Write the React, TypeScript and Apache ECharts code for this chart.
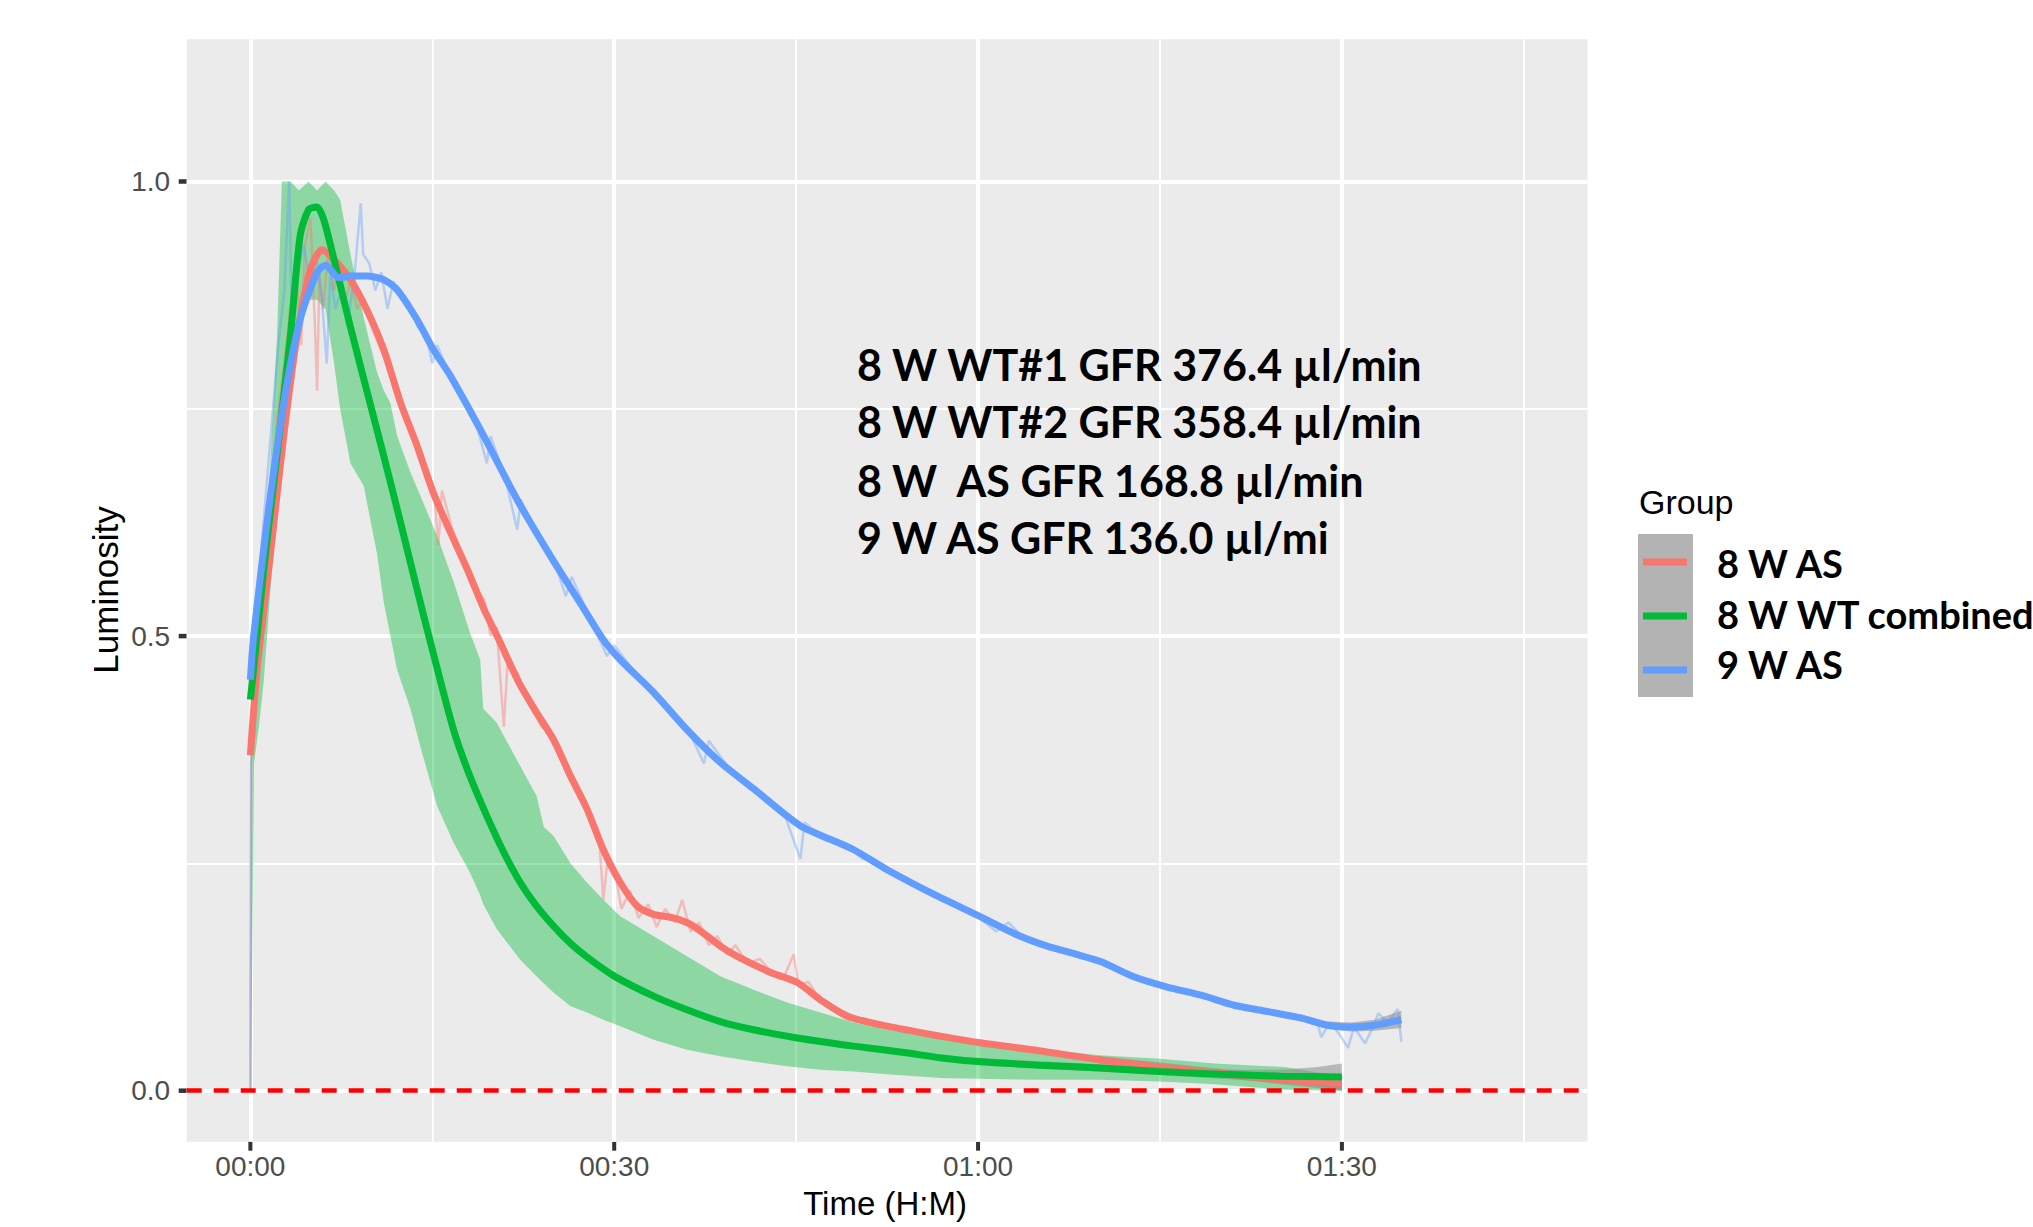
import React, { useEffect, useRef } from "react";
import * as echarts from "echarts";

// ---------------- axis ticks / grid values ----------------
const xMajorTicks = [0, 30, 60, 90]; // minutes
const xMinorGrid = [15, 45, 75, 105];
const yMajorTicks = [0, 0.5, 1.0];
const yMinorGrid = [0.25, 0.75];
const zeroLine = [0];
const X_MIN = -5.25;
const X_MAX = 110.25;
const Y_MIN = -0.0561;
const Y_MAX = 1.1564;

// ---------------- legend / annotation texts ----------------
const groupNames = ["8 W AS", "8 W WT combined", "9 W AS"];
const legendTitle = "Group";
const annotationLines = [
  "8 W WT#1 GFR 376.4 µl/min",
  "8 W WT#2 GFR 358.4 µl/min",
  "8 W  AS GFR 168.8 µl/min",
  "9 W AS GFR 136.0 µl/mi",
];

// ---------------- smoothed curves (time in minutes, luminosity) ----------------
const as8SmoothT = [0, 0.55, 1.65, 2.75, 3.85, 4.95, 5.9, 6.9, 8.25, 9.6, 11.0, 12.4, 13.75, 15.1, 16.5, 17.9, 19.25, 20.6, 22.1, 23.5, 25.0, 26.4, 27.75, 29.1, 30.5, 31.9, 33.25, 34.9, 36.55, 38.75, 40.1, 42.9, 45.1, 47.0, 49.2, 52.5, 56.9, 60, 65, 70, 75, 80, 85, 90];
const as8SmoothV = [0.369, 0.463, 0.59, 0.72, 0.83, 0.903, 0.925, 0.914, 0.892, 0.859, 0.815, 0.756, 0.709, 0.657, 0.614, 0.573, 0.53, 0.493, 0.45, 0.418, 0.386, 0.346, 0.31, 0.265, 0.229, 0.203, 0.194, 0.19, 0.181, 0.159, 0.148, 0.13, 0.119, 0.1, 0.082, 0.071, 0.06, 0.053, 0.044, 0.034, 0.026, 0.019, 0.012, 0.008];

const wtSmoothT = [0, 0.55, 1.1, 2.2, 3.3, 4.1, 4.8, 5.5, 6.05, 6.9, 8.25, 9.6, 11.0, 12.4, 13.75, 14.85, 16.75, 18.1, 19.5, 20.9, 22.25, 23.6, 25.0, 26.4, 27.75, 30, 33.25, 36, 38.75, 41.5, 45.1, 49.75, 53.9, 57, 60, 65, 70, 75, 80, 85, 90];
const wtSmoothV = [0.43, 0.5, 0.573, 0.7, 0.83, 0.94, 0.969, 0.972, 0.958, 0.914, 0.84, 0.77, 0.698, 0.624, 0.551, 0.493, 0.397, 0.346, 0.302, 0.262, 0.229, 0.203, 0.181, 0.162, 0.147, 0.126, 0.104, 0.089, 0.076, 0.067, 0.058, 0.049, 0.042, 0.036, 0.032, 0.028, 0.025, 0.021, 0.018, 0.016, 0.015];

const as9SmoothT = [0, 0.27, 1.4, 2.75, 4.1, 5.5, 6.2, 7.3, 8.25, 9.6, 11.0, 12.1, 13.75, 15.1, 16.5, 19.25, 22.0, 24.75, 27.5, 29.1, 30.5, 33.25, 36.0, 38.75, 41.5, 44.25, 45.5, 47.0, 49.75, 52.5, 56.2, 60.1, 63.3, 65.7, 68.1, 70.1, 72.9, 75.6, 78.4, 81.1, 83.9, 86.6, 88.8, 90.8, 92.7, 94.9];
const as9SmoothV = [0.452, 0.5, 0.628, 0.756, 0.848, 0.9, 0.908, 0.894, 0.896, 0.896, 0.892, 0.881, 0.848, 0.815, 0.786, 0.72, 0.65, 0.588, 0.53, 0.496, 0.474, 0.438, 0.397, 0.361, 0.332, 0.302, 0.29, 0.281, 0.265, 0.243, 0.217, 0.192, 0.171, 0.159, 0.15, 0.142, 0.125, 0.114, 0.105, 0.094, 0.087, 0.08, 0.072, 0.07, 0.072, 0.078];

// ---------------- confidence ribbons (tails, where visible) ----------------
const wtRibbonT = [60, 70, 80, 85, 88, 90];
const wtRibbonLo = [0.028, 0.021, 0.013, 0.009, 0.005, 0.001];
const wtRibbonHi = [0.036, 0.029, 0.023, 0.023, 0.026, 0.03];
const as8RibbonT = [70, 80, 85, 90];
const as8RibbonLo = [0.03, 0.015, 0.007, 0.0];
const as8RibbonHi = [0.038, 0.024, 0.017, 0.016];
const as9RibbonT = [86.6, 88.8, 90.8, 92.7, 94.9];
const as9RibbonLo = [0.077, 0.068, 0.065, 0.066, 0.069];
const as9RibbonHi = [0.084, 0.076, 0.075, 0.078, 0.088];

// ---------------- raw traces ----------------
// combined WT raw traces form a band (lower / upper envelope)
const wtBandT = [0, 0.05, 0.3, 0.7, 1.1, 1.65, 2.2, 2.6, 3.3, 4.0, 4.8, 5.5, 6.2, 6.9, 7.4, 8.25, 9.35, 10.45, 11.0, 11.55, 12.1, 13.2, 14.0, 15.4, 16.75, 18.1, 18.95, 19.2, 20.3, 22.25, 23.6, 24.2, 25.0, 26.4, 27.75, 29.1, 30.5, 33.25, 36.0, 38.75, 41.5, 44.25, 47.0, 49.75, 52.5, 56.9, 60, 65, 70, 75, 79.5, 85.3, 89.4, 90];
const wtBandLo = [0, 0, 0.36, 0.4, 0.45, 0.55, 0.64, 0.7, 0.78, 0.84, 0.87, 0.87, 0.86, 0.8, 0.75, 0.69, 0.665, 0.59, 0.537, 0.5, 0.463, 0.42, 0.379, 0.313, 0.273, 0.24, 0.215, 0.205, 0.178, 0.144, 0.126, 0.118, 0.108, 0.093, 0.086, 0.078, 0.071, 0.056, 0.045, 0.038, 0.032, 0.027, 0.023, 0.021, 0.018, 0.014, 0.013, 0.012, 0.012, 0.01, 0.007, 0.001, 0.0, 0.0];
const wtBandHi = [0, 0.38, 0.42, 0.48, 0.58, 0.69, 0.83, 1.0, 1.0, 0.99, 1.0, 0.99, 1.0, 0.99, 0.98, 0.92, 0.85, 0.79, 0.77, 0.756, 0.72, 0.68, 0.655, 0.61, 0.56, 0.504, 0.474, 0.42, 0.405, 0.357, 0.324, 0.29, 0.28, 0.25, 0.229, 0.21, 0.192, 0.17, 0.148, 0.126, 0.111, 0.097, 0.086, 0.075, 0.067, 0.06, 0.052, 0.046, 0.039, 0.035, 0.03, 0.026, 0.017, 0.015];

const as8Raw = [
  [0, 0], [0.05, 0.36], [0.4, 0.42], [1.0, 0.52], [1.6, 0.62], [2.2, 0.74], [2.8, 0.8], [3.3, 0.86], [3.8, 0.9], [4.2, 0.82],
  [4.5, 0.93], [4.95, 0.96], [5.3, 0.85], [5.5, 0.77], [5.7, 0.9], [6.0, 0.86], [6.4, 0.92], [6.9, 0.88], [7.3, 0.91], [7.8, 0.87],
  [8.3, 0.89], [8.8, 0.86], [9.3, 0.87], [10.0, 0.84], [10.6, 0.82], [11.3, 0.8], [12.0, 0.77], [12.8, 0.74], [13.6, 0.71], [14.5, 0.68],
  [15.2, 0.65], [15.5, 0.6], [15.8, 0.66], [16.6, 0.62], [17.5, 0.585], [18.4, 0.555], [19.3, 0.54], [19.8, 0.5], [20.3, 0.51], [20.9, 0.4],
  [21.2, 0.47], [22.0, 0.46], [23.0, 0.425], [24.0, 0.4], [25.0, 0.39], [26.0, 0.36], [26.8, 0.33], [27.5, 0.32], [28.2, 0.29], [28.8, 0.27],
  [29.1, 0.21], [29.5, 0.26], [30.2, 0.23], [30.6, 0.2], [31.3, 0.22], [32.0, 0.19], [32.8, 0.205], [33.5, 0.18], [34.2, 0.2], [35.0, 0.185],
  [35.6, 0.21], [36.3, 0.175], [37.0, 0.185], [37.8, 0.16], [38.5, 0.17], [39.3, 0.15], [40.0, 0.16], [41.0, 0.14], [42.0, 0.145], [43.0, 0.13],
  [44.0, 0.125], [44.8, 0.15], [45.2, 0.115], [46.0, 0.12], [47.0, 0.1], [48.5, 0.09], [50.0, 0.08], [52.0, 0.074], [54.0, 0.066], [57.0, 0.06],
  [60.0, 0.053], [65.0, 0.045], [70.0, 0.036], [75.0, 0.027], [80.0, 0.02], [85.0, 0.012], [90.0, 0.007],
];

const as9Raw = [
  [0, 0], [0.05, 0.4], [0.3, 0.47], [0.8, 0.58], [1.3, 0.66], [1.8, 0.74], [2.3, 0.82], [2.8, 0.88], [3.2, 1.0], [3.4, 0.86],
  [3.9, 0.9], [4.4, 0.93], [4.9, 0.89], [5.4, 0.92], [5.9, 0.87], [6.3, 0.8], [6.6, 0.9], [7.0, 0.86], [7.5, 0.88], [8.0, 0.84],
  [8.6, 0.9], [9.1, 0.976], [9.3, 0.92], [9.8, 0.91], [10.3, 0.88], [10.8, 0.9], [11.3, 0.86], [11.8, 0.89], [12.5, 0.87], [13.2, 0.86],
  [13.8, 0.84], [14.5, 0.83], [15.0, 0.8], [15.4, 0.82], [16.5, 0.785], [17.5, 0.76], [18.5, 0.74], [19.5, 0.69], [19.8, 0.72], [21.0, 0.675],
  [22.0, 0.617], [22.3, 0.65], [23.5, 0.615], [25.0, 0.585], [26.0, 0.544], [26.5, 0.565], [28.0, 0.52], [29.4, 0.478], [30.0, 0.49], [32.0, 0.455],
  [34.0, 0.43], [36.0, 0.4], [37.4, 0.36], [37.8, 0.385], [40.0, 0.345], [42.0, 0.325], [44.0, 0.305], [45.35, 0.255], [45.7, 0.295], [47.0, 0.28],
  [49.0, 0.27], [50.5, 0.255], [52.5, 0.245], [54.0, 0.235], [56.2, 0.215], [58.0, 0.205], [60.1, 0.19], [61.5, 0.175], [62.5, 0.185], [64.0, 0.165],
  [66.0, 0.158], [68.0, 0.15], [70.1, 0.14], [72.0, 0.13], [74.0, 0.118], [76.0, 0.113], [78.0, 0.105], [80.0, 0.098], [82.0, 0.092], [84.0, 0.087],
  [86.0, 0.081], [88.0, 0.073], [88.3, 0.059], [89.0, 0.075], [89.8, 0.062], [90.5, 0.047], [91.0, 0.07], [91.9, 0.052], [92.5, 0.068], [93.0, 0.085],
  [93.8, 0.075], [94.6, 0.09], [94.9, 0.054],
];

// ---------------- styling ----------------
const COL_AS8 = "#F8766D";
const COL_WT = "#00BA38";
const COL_AS9 = "#619CFF";
const SE_FILL = "rgba(140,140,140,0.55)";
const TICK_FONT = "'Liberation Sans', Arial, sans-serif";
const BOLD_FONT = "Lato, 'Open Sans', sans-serif";

const pair = (t: number[], v: number[]) => t.map((x, i) => [x, v[i]]);
const fmtHM = (m: number) => {
  const h = Math.floor(m / 60);
  const mm = Math.round(m % 60);
  return `${String(h).padStart(2, "0")}:${String(mm).padStart(2, "0")}`;
};

// a filled band between lo and hi, drawn as one polygon through the axis scales
function bandSeries(name: string, t: number[], lo: number[], hi: number[], color: string, z: number) {
  return {
    type: "custom",
    name,
    silent: true,
    z,
    data: t.map((x, i) => [x, lo[i], hi[i]]),
    encode: { x: 0, y: [1, 2] },
    renderItem: (params: any, api: any) => {
      if (params.dataIndex !== 0) return null;
      const up = t.map((x, i) => api.coord([x, hi[i]]));
      const dn = t.map((x, i) => api.coord([x, lo[i]])).reverse();
      return {
        type: "polygon",
        shape: { points: up.concat(dn) },
        style: { fill: color, stroke: null },
      };
    },
  };
}

function gridLineSeries(name: string, xs: number[], ys: number[], width: number) {
  return {
    type: "line", name, data: [], silent: true, z: 1,
    markLine: {
      silent: true, z: 1, symbol: ["none", "none"], label: { show: false },
      emphasis: { disabled: true },
      lineStyle: { color: "#FFFFFF", width, type: "solid", opacity: 1 },
      data: [...xs.map((v) => ({ xAxis: v })), ...ys.map((v) => ({ yAxis: v }))],
    },
  };
}

function baseGraphics() {
  const annotationY = [364, 421.5, 480, 537];
  const legendLineY = [562, 616, 670];
  const legendTextY = [563, 614, 664];
  const legendColors = [COL_AS8, COL_WT, COL_AS9];
  return [
    {
      type: "text", x: 105, y: 590, rotation: Math.PI / 2,
      style: { text: "Luminosity", fontSize: 35, fontFamily: TICK_FONT, fill: "#000000", align: "center", verticalAlign: "middle" },
    },
    {
      type: "text", x: 885, y: 1203,
      style: { text: "Time (H:M)", fontSize: 33, fontFamily: TICK_FONT, fill: "#000000", align: "center", verticalAlign: "middle" },
    },
    {
      type: "text", x: 1639, y: 501.5,
      style: { text: legendTitle, fontSize: 34, fontFamily: TICK_FONT, fill: "#000000", align: "left", verticalAlign: "middle" },
    },
    { type: "rect", shape: { x: 1638, y: 534, width: 55, height: 163 }, style: { fill: "#B3B3B3" } },
    ...legendColors.map((c, i) => ({
      type: "line", shape: { x1: 1643, y1: legendLineY[i], x2: 1687, y2: legendLineY[i] },
      style: { stroke: c, lineWidth: 7 },
    })),
    ...groupNames.map((g, i) => ({
      type: "text", x: 1717, y: legendTextY[i],
      style: { text: g, fontSize: 38, fontWeight: "bold", fontFamily: BOLD_FONT, fill: "#000000", align: "left", verticalAlign: "middle" },
    })),
    ...annotationLines.map((s, i) => ({
      type: "text", x: 857, y: annotationY[i], z: 100,
      style: { text: s, fontSize: 43, fontWeight: "bold", fontFamily: BOLD_FONT, fill: "#000000", align: "left", verticalAlign: "middle" },
    })),
  ];
}

function buildOption() {
  return {
    animation: false,
    grid: {
      left: 186.7, top: 39.3, right: 445.5, bottom: 85.3,
      containLabel: false, show: true, backgroundColor: "#EBEBEB", borderWidth: 0,
    },
    xAxis: {
      type: "value", min: X_MIN, max: X_MAX,
      axisLine: { show: false }, splitLine: { show: false }, axisTick: { show: false },
      axisLabel: {
        customValues: xMajorTicks, formatter: (v: number) => fmtHM(v),
        color: "#4D4D4D", fontSize: 28, fontFamily: TICK_FONT, margin: 11, lineHeight: 28,
      },
    },
    yAxis: {
      type: "value", min: Y_MIN, max: Y_MAX,
      axisLine: { show: false }, splitLine: { show: false }, axisTick: { show: false },
      axisLabel: {
        customValues: yMajorTicks, formatter: (v: number) => v.toFixed(1),
        color: "#4D4D4D", fontSize: 28, fontFamily: TICK_FONT, margin: 16.5,
      },
    },
    series: [
      gridLineSeries("grid-minor", xMinorGrid, yMinorGrid, 2),
      gridLineSeries("grid-major", xMajorTicks, yMajorTicks, 4),
      bandSeries("8 W WT raw", wtBandT, wtBandLo, wtBandHi, "rgba(0,186,56,0.4)", 2),
      {
        type: "line", name: "8 W AS raw", data: as8Raw, symbol: "none", silent: true, z: 2,
        lineStyle: { color: COL_AS8, width: 2.5, opacity: 0.4 },
      },
      {
        type: "line", name: "9 W AS raw", data: as9Raw, symbol: "none", silent: true, z: 2,
        lineStyle: { color: COL_AS9, width: 2.5, opacity: 0.4 },
      },
      bandSeries("8 W AS se", as8RibbonT, as8RibbonLo, as8RibbonHi, SE_FILL, 3),
      bandSeries("8 W WT se", wtRibbonT, wtRibbonLo, wtRibbonHi, SE_FILL, 3),
      bandSeries("9 W AS se", as9RibbonT, as9RibbonLo, as9RibbonHi, SE_FILL, 3),
      {
        type: "line", name: groupNames[0], data: pair(as8SmoothT, as8SmoothV), symbol: "none", smooth: 0.25, z: 4,
        lineStyle: { color: COL_AS8, width: 7 },
      },
      {
        type: "line", name: groupNames[1], data: pair(wtSmoothT, wtSmoothV), symbol: "none", smooth: 0.25, z: 4,
        lineStyle: { color: COL_WT, width: 7 },
      },
      {
        type: "line", name: groupNames[2], data: pair(as9SmoothT, as9SmoothV), symbol: "none", smooth: 0.25, z: 4,
        lineStyle: { color: COL_AS9, width: 7 },
      },
      {
        type: "line", name: "zero-line", data: [], silent: true, z: 10,
        markLine: {
          silent: true, z: 10, symbol: ["none", "none"], label: { show: false },
          emphasis: { disabled: true },
          lineStyle: { color: "#FF0000", width: 4.7, type: [15, 12], opacity: 1 },
          data: zeroLine.map((v) => ({ yAxis: v })),
        },
      },
    ],
    graphic: baseGraphics(),
  };
}

export default function App() {
  const ref = useRef<HTMLDivElement>(null);
  useEffect(() => {
    if (!ref.current) return;
    const chart = echarts.init(ref.current, null, { renderer: "svg" });
    chart.setOption(buildOption() as any);
    // axis tick marks, positioned through the chart's own scales
    const toPx = (x: number, y: number) => chart.convertToPixel({ gridIndex: 0 }, [x, y]) as number[];
    const yBottom = toPx(0, Y_MIN)[1];
    const xLeft = toPx(X_MIN, 0)[0];
    const ticks = [
      ...xMajorTicks.map((v) => {
        const px = toPx(v, 0)[0];
        return { type: "line", shape: { x1: px, y1: yBottom, x2: px, y2: yBottom + 9 }, style: { stroke: "#333333", lineWidth: 4 } };
      }),
      ...yMajorTicks.map((v) => {
        const py = toPx(0, v)[1];
        return { type: "line", shape: { x1: xLeft - 8, y1: py, x2: xLeft, y2: py }, style: { stroke: "#333333", lineWidth: 4.5 } };
      }),
    ];
    chart.setOption({ graphic: [...baseGraphics(), ...ticks] } as any);
    return () => chart.dispose();
  }, []);
  return (
    <div
      ref={ref}
      style={{ position: "fixed", left: 0, top: 0, width: 2033, height: 1227, background: "#FFFFFF" }}
    />
  );
}
